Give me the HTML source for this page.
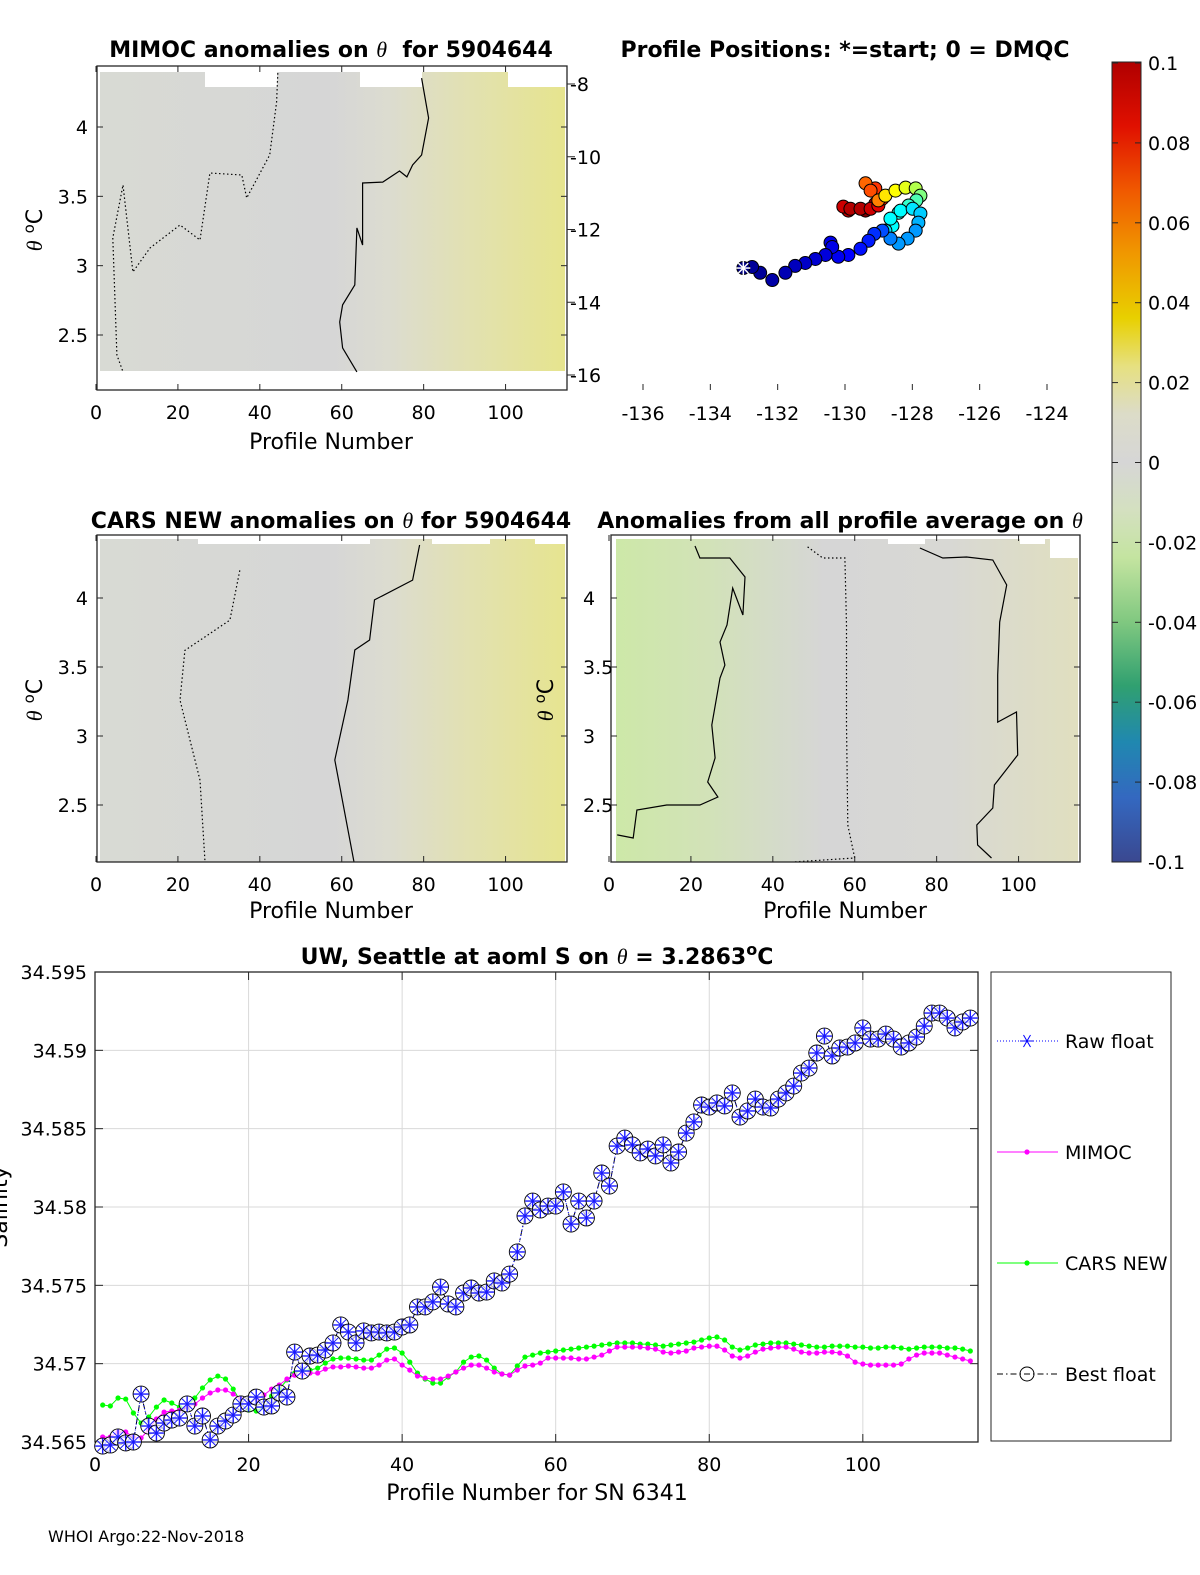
<!DOCTYPE html>
<html><head><meta charset="utf-8">
<style>
html,body{margin:0;padding:0;background:#fff;}
svg{display:block;font-family:"DejaVu Sans","Liberation Sans",sans-serif;}
.t{font-size:22px;font-weight:bold;}
.k{font-size:19px;}
.l{font-size:22px;}
</style></head>
<body>
<svg id="fig" width="1200" height="1575" viewBox="0 0 1200 1575" xmlns="http://www.w3.org/2000/svg">
<defs>
<linearGradient id="gTop" x1="0" x2="1" y1="0" y2="0">
<stop offset="0" stop-color="#d8dad4"/><stop offset="0.5" stop-color="#d6d6d6"/><stop offset="0.62" stop-color="#dcdcd0"/><stop offset="0.8" stop-color="#e2e1b0"/><stop offset="1" stop-color="#e6e48e"/>
</linearGradient>
<linearGradient id="gMid" x1="0" x2="1" y1="0" y2="0">
<stop offset="0" stop-color="#d8dad4"/><stop offset="0.5" stop-color="#d6d6d6"/><stop offset="0.62" stop-color="#dcdcd0"/><stop offset="0.8" stop-color="#e2e1b0"/><stop offset="1" stop-color="#e6e490"/>
</linearGradient>
<linearGradient id="gAvg" x1="0" x2="1" y1="0" y2="0">
<stop offset="0" stop-color="#cde8a8"/><stop offset="0.2" stop-color="#d2e2b8"/><stop offset="0.45" stop-color="#d6d6d6"/><stop offset="0.72" stop-color="#d8d8d4"/><stop offset="1" stop-color="#e0dfbf"/>
</linearGradient>
<linearGradient id="gCbar" x1="0" x2="0" y1="0" y2="1">
<stop offset="0" stop-color="#b00000"/><stop offset="0.08" stop-color="#e01000"/><stop offset="0.16" stop-color="#f05800"/><stop offset="0.24" stop-color="#f09800"/><stop offset="0.32" stop-color="#e8d000"/><stop offset="0.38" stop-color="#e6e080"/><stop offset="0.44" stop-color="#dcdcc8"/><stop offset="0.5" stop-color="#d6d6d6"/><stop offset="0.56" stop-color="#d4e0c0"/><stop offset="0.62" stop-color="#c4e4a0"/><stop offset="0.7" stop-color="#80c880"/><stop offset="0.78" stop-color="#30a070"/><stop offset="0.85" stop-color="#2088b0"/><stop offset="0.92" stop-color="#3468c0"/><stop offset="1" stop-color="#3a4890"/>
</linearGradient>
</defs>
<g id="root"></g>
<text x="48" y="1542" font-size="16">WHOI Argo:22-Nov-2018</text>
</svg>
<script>
const profiles = Array.from({length:114},(_, i)=>i+1);
const bestFloat = [34.56474,34.56481,34.56532,34.56494,34.56500,34.56806,34.56602,34.56557,34.56621,34.56640,34.56653,34.56743,34.56602,34.56666,34.56513,34.56602,34.56634,34.56672,34.56743,34.56743,34.56787,34.56723,34.56730,34.56813,34.56787,34.57074,34.56953,34.57049,34.57055,34.57087,34.57132,34.57247,34.57202,34.57132,34.57209,34.57196,34.57202,34.57196,34.57202,34.57234,34.57247,34.57362,34.57362,34.57394,34.57489,34.57381,34.57362,34.57451,34.57483,34.57451,34.57457,34.57528,34.57515,34.57572,34.57713,34.57943,34.58038,34.57981,34.58006,34.58006,34.58096,34.57891,34.58038,34.57930,34.58038,34.58217,34.58134,34.58389,34.58440,34.58396,34.58345,34.58370,34.58326,34.58396,34.58281,34.58351,34.58472,34.58543,34.58651,34.58638,34.58664,34.58645,34.58728,34.58574,34.58613,34.58689,34.58638,34.58632,34.58689,34.58728,34.58772,34.58855,34.58887,34.58983,34.59091,34.58964,34.59015,34.59021,34.59047,34.59143,34.59072,34.59072,34.59104,34.59072,34.59021,34.59047,34.59085,34.59155,34.59238,34.59238,34.59206,34.59143,34.59181,34.59206];
const rawFloat = bestFloat.slice();
const mimoc = [34.56532,34.56532,34.56564,34.56564,34.56532,34.56526,34.56577,34.56647,34.56691,34.56698,34.56704,34.56723,34.56742,34.56781,34.56813,34.56832,34.56832,34.56806,34.56774,34.56749,34.56768,34.56800,34.56838,34.56864,34.56902,34.56927,34.56934,34.56940,34.56940,34.56966,34.56979,34.56979,34.56985,34.56979,34.56972,34.56972,34.56991,34.57023,34.57030,34.56991,34.56959,34.56921,34.56908,34.56902,34.56902,34.56921,34.56947,34.56972,34.56991,34.56991,34.56972,34.56947,34.56934,34.56927,34.56959,34.56985,34.56991,34.57004,34.57036,34.57036,34.57036,34.57036,34.57030,34.57030,34.57042,34.57055,34.57081,34.57106,34.57106,34.57106,34.57106,34.57100,34.57093,34.57074,34.57068,34.57074,34.57081,34.57100,34.57106,34.57112,34.57112,34.57087,34.57049,34.57036,34.57049,34.57074,34.57093,34.57100,34.57106,34.57106,34.57093,34.57074,34.57068,34.57068,34.57074,34.57074,34.57068,34.57049,34.57010,34.56998,34.56991,34.56991,34.56991,34.56991,34.56998,34.57030,34.57055,34.57068,34.57068,34.57068,34.57055,34.57042,34.57030,34.57017];
const cars = [34.56736,34.56730,34.56781,34.56774,34.56685,34.56621,34.56660,34.56723,34.56768,34.56749,34.56723,34.56723,34.56781,34.56845,34.56896,34.56921,34.56902,34.56838,34.56755,34.56704,34.56698,34.56723,34.56793,34.56838,34.56896,34.56940,34.56959,34.56959,34.56972,34.57004,34.57030,34.57036,34.57036,34.57030,34.57023,34.57023,34.57055,34.57093,34.57100,34.57068,34.57010,34.56940,34.56902,34.56876,34.56876,34.56915,34.56947,34.57010,34.57042,34.57049,34.57023,34.56972,34.56934,34.56927,34.56985,34.57042,34.57055,34.57068,34.57074,34.57081,34.57087,34.57093,34.57100,34.57106,34.57112,34.57119,34.57125,34.57132,34.57132,34.57132,34.57125,34.57125,34.57119,34.57112,34.57119,34.57125,34.57132,34.57138,34.57151,34.57164,34.57170,34.57151,34.57106,34.57087,34.57100,34.57119,34.57125,34.57132,34.57132,34.57132,34.57125,34.57119,34.57112,34.57106,34.57106,34.57112,34.57112,34.57112,34.57106,34.57106,34.57100,34.57100,34.57106,34.57106,34.57100,34.57093,34.57100,34.57106,34.57106,34.57106,34.57100,34.57100,34.57093,34.57081];
const salTicks = [34.565,34.57,34.575,34.58,34.585,34.59,34.595];
const salTickLabels = ["34.565","34.57","34.575","34.58","34.585","34.59","34.595"];
const profTicks = [0,20,40,60,80,100];

const lons = [-133.02,-132.76,-132.52,-132.16,-131.77,-131.48,-131.18,-130.88,-130.58,-130.38,-130.43,-130.20,-129.90,-129.54,-129.30,-129.13,-128.89,-128.65,-128.41,-128.14,-127.90,-127.82,-127.76,-127.99,-128.35,-128.65,-128.80,-128.59,-128.41,-128.11,-127.88,-127.76,-127.90,-128.20,-128.50,-128.80,-129.01,-129.24,-129.39,-129.10,-128.89,-129.01,-129.24,-129.54,-129.84,-130.05,-129.90,-129.39,-129.10,-128.95];
const lats = [-13.06,-13.03,-13.19,-13.39,-13.19,-13.00,-12.92,-12.81,-12.70,-12.48,-12.36,-12.75,-12.70,-12.53,-12.31,-12.12,-12.03,-12.25,-12.39,-12.25,-12.03,-11.81,-11.56,-11.43,-11.48,-11.70,-12.03,-11.90,-11.54,-11.34,-11.20,-11.07,-10.87,-10.85,-10.93,-11.07,-11.20,-10.93,-10.73,-10.87,-11.15,-11.34,-11.43,-11.43,-11.43,-11.37,-11.48,-11.48,-11.29,-11.20];
const anomVals = [-0.1,-0.095,-0.095,-0.092,-0.09,-0.088,-0.086,-0.084,-0.082,-0.08,-0.08,-0.078,-0.075,-0.072,-0.07,-0.066,-0.06,-0.05,-0.045,-0.045,-0.045,-0.04,-0.035,-0.03,-0.025,-0.025,-0.03,-0.025,-0.02,-0.015,-0.01,0.0,0.01,0.02,0.025,0.03,0.05,0.06,0.055,0.065,0.07,0.08,0.085,0.09,0.09,0.085,0.09,0.1,0.095,0.088];
const lonTicks = [-136,-134,-132,-130,-128,-126,-124];
const latTicks = [-8,-10,-12,-14,-16];
const cbarTicks = [0.1,0.08,0.06,0.04,0.02,0,-0.02,-0.04,-0.06,-0.08,-0.1];
const cbarLabels = ["0.1","0.08","0.06","0.04","0.02","0","-0.02","-0.04","-0.06","-0.08","-0.1"];
const thetaTicks = [4,3.5,3,2.5];

const c1SolidP = [79.5,81.2,79.5,77.3,75.9,74.1,70.0,65.1,65.1,63.7,63.2,60.2,59.5,60.2,63.7];
const c1SolidT = [4.353,4.065,3.798,3.726,3.640,3.683,3.603,3.596,3.149,3.272,2.861,2.717,2.594,2.407,2.234];
const c1DotP = [44.4,44.1,42.4,36.8,35.6,27.8,25.4,20.5,13.2,9.0,6.6,4.1,5.1,6.6];
const c1DotT = [4.389,4.180,3.798,3.488,3.654,3.668,3.185,3.293,3.128,2.955,3.582,3.200,2.356,2.234];
const c2SolidP = [79.0,77.3,68.0,66.8,63.2,61.5,58.3,63.0];
const c2SolidT = [4.384,4.130,3.986,3.696,3.623,3.261,2.826,2.087];
const c2DotP = [35.1,32.7,21.7,20.5,25.4,26.6];
const c2DotT = [4.2,3.84,3.62,3.26,2.68,2.10];
const c3LeftP = [21.0,22.2,29.5,33.2,32.7,30.2,28.8,27.1,28.3,27.1,25.1,25.9,24.1,26.6,22.2,14.1,6.8,5.9,2.0];
const c3LeftT = [4.377,4.290,4.290,4.152,3.877,4.072,3.804,3.681,3.514,3.420,3.080,2.841,2.667,2.558,2.500,2.500,2.464,2.261,2.283];
const c3RightP = [75.9,81.5,87.3,93.7,97.1,95.4,94.9,94.9,99.5,99.8,94.1,93.7,89.8,90.0,93.4];
const c3RightT = [4.362,4.290,4.297,4.275,4.094,3.826,3.442,3.101,3.174,2.862,2.645,2.478,2.355,2.210,2.116];
const c3DotP = [48.5,52.2,57.6,58.0,58.0,58.3,60.0,44.9];
const c3DotT = [4.370,4.290,4.290,3.804,3.080,2.355,2.116,2.087];

const NS="http://www.w3.org/2000/svg";
const root=document.getElementById('root');
function el(tag,attrs,parent,text){const e=document.createElementNS(NS,tag);for(const k in attrs)e.setAttribute(k,attrs[k]);if(text!==undefined)e.textContent=text;(parent||root).appendChild(e);return e;}
function lin(d0,d1,p0,p1){return v=>p0+(v-d0)*(p1-p0)/(d1-d0);}

function panel(name,box,grad,xScale,yScale,notches,contours,yLabelX,ylabelSide){
  const g=el('g',{});
  
  
  const hm=el('rect',{x:box.dx0,y:box.dy0,width:box.dx1-box.dx0,height:box.dy1-box.dy0,fill:'url(#'+grad+')'},g);
  
  
  notches.forEach(n=>{const r=el('rect',{x:n[0],y:box.y0+1,width:n[1]-n[0],height:n[2]-box.y0-1,fill:'#fff'},g);});
  contours.forEach(c=>{
    const pts=c.p.map((p,i)=>xScale(p).toFixed(1)+','+yScale(c.t[i]).toFixed(1)).join(' ');
    const pl=el('polyline',{points:pts,fill:'none',stroke:'#000','stroke-width':1.2,'stroke-dasharray':c.dot?'1.5 2.5':'none'},g);
    
    
  });
  el('rect',{x:box.x0,y:box.y0,width:box.x1-box.x0,height:box.y1-box.y0,fill:'none',stroke:'#262626','stroke-width':1.3},g);
  profTicks.forEach(t=>{const x=xScale(t);el('line',{x1:x,x2:x,y1:box.y1,y2:box.y1-6,stroke:'#262626'},g);el('line',{x1:x,x2:x,y1:box.y0,y2:box.y0+6,stroke:'#262626'},g);
    const tx=el('text',{x:x,y:box.y1+29,'text-anchor':'middle',class:'k'},g,String(t));});
  thetaTicks.forEach(t=>{const y=yScale(t);el('line',{x1:box.x0,x2:box.x0+6,y1:y,y2:y,stroke:'#262626'},g);el('line',{x1:box.x1,x2:box.x1-6,y1:y,y2:y,stroke:'#262626'},g);
    if(yLabelX){const tx=el('text',{x:yLabelX,y:y+7,'text-anchor':ylabelSide,class:'k'},g,String(t));}});
  return g;
}
{const box={x0:97,x1:567,y0:66,y1:390,dx0:100,dx1:565,dy0:72,dy1:371};
 const xs=lin(0,115,96,567), ys=lin(4,2.5,127,335);
 panel('mimoc-anomaly-panel',box,'gTop',xs,ys,[[97,100,390],[205,277,87],[360,422,87],[508,567,87]],
 [{p:c1SolidP,t:c1SolidT},{p:c1DotP,t:c1DotT,dot:true}],88,'end');}
{const box={x0:97,x1:567,y0:535,y1:862,dx0:100,dx1:565,dy0:539,dy1:862};
 const xs=lin(0,115,96,567), ys=lin(4,2.5,598,805);
 panel('cars-anomaly-panel',box,'gMid',xs,ys,[[198,370,544],[432,490,544],[535,567,544]],
 [{p:c2SolidP,t:c2SolidT},{p:c2DotP,t:c2DotT,dot:true}],88,'end');}
{const box={x0:611,x1:1080,y0:535,y1:862,dx0:616,dx1:1078,dy0:539,dy1:862};
 const xs=lin(0,115,609,1080), ys=lin(4,2.5,598,805);
 panel('profile-average-anomaly-panel',box,'gAvg',xs,ys,[[888,925,544],[1020,1045,544],[1050,1078,558]],
 [{p:c3LeftP,t:c3LeftT},{p:c3RightP,t:c3RightT},{p:c3DotP,t:c3DotT,dot:true}],583,'start');}

{const g=el('g',{});
 
 
 const xs=lin(-136,-124,643,1047), ys=lin(-8,-16,84,375);
 el('rect',{x:610,y:66,width:470,height:324,fill:'#fff'},g);
 lonTicks.forEach(t=>{const x=xs(t);el('line',{x1:x,x2:x,y1:390,y2:384,stroke:'#262626'},g);
   const tx=el('text',{x:x,y:420,'text-anchor':'middle',class:'k'},g,String(t));});
 latTicks.forEach(t=>{const y=ys(t);el('line',{x1:567,x2:575,y1:y,y2:y,stroke:'#262626'},g);
   const tx=el('text',{x:570,y:y+7,'text-anchor':'start',class:'k'},g,String(t));});
 function jet(v){const t=(v+0.1)/0.2;const r=Math.min(1,Math.max(0,1.5-Math.abs(4*t-3))),gg=Math.min(1,Math.max(0,1.5-Math.abs(4*t-2))),b=Math.min(1,Math.max(0,1.5-Math.abs(4*t-1)));return 'rgb('+Math.round(r*255)+','+Math.round(gg*255)+','+Math.round(b*255)+')';}
 for(let i=lons.length-1;i>=1;i--){
   const c=el('circle',{cx:xs(lons[i]),cy:ys(lats[i]),r:6.5,fill:jet(anomVals[i]),stroke:'#000','stroke-width':1},g);
   
   
 }
 const sx=xs(lons[0]),sy=ys(lats[0]);
 const st=el('g',{},g);
 
 
 el('circle',{cx:sx,cy:sy,r:6.5,fill:jet(anomVals[0]),stroke:'#000'},st);
 [0,45,90,135].forEach(a=>{const r=a*Math.PI/180;el('line',{x1:sx-7*Math.cos(r),y1:sy-7*Math.sin(r),x2:sx+7*Math.cos(r),y2:sy+7*Math.sin(r),stroke:'#fff','stroke-width':1.5},st);});
}
{const g=el('g',{});
 
 
 el('rect',{x:1112,y:62,width:29,height:800,fill:'url(#gCbar)',stroke:'#262626'},g);
 const ys=lin(0.1,-0.1,63,862);
 cbarTicks.forEach((t,i)=>{const y=ys(t);el('line',{x1:1135,x2:1141,y1:y,y2:y,stroke:'#262626'},g);el('line',{x1:1112,x2:1118,y1:y,y2:y,stroke:'#262626'},g);
   const tx=el('text',{x:1148,y:y+7,class:'k'},g,cbarLabels[i]);});
}

function txt(name,x,y,s,cls,extra){const t=el('text',Object.assign({x:x,y:y,'text-anchor':'middle',class:cls},extra||{}));t.innerHTML=s;return t;}
txt('title-mimoc',331,57,'MIMOC anomalies on <tspan font-family="Liberation Serif" font-style="italic" font-weight="normal">θ</tspan>&#160; for 5904644','t');
txt('title-positions',845,57,'Profile Positions: *=start; 0 = DMQC','t');
txt('title-cars',331,528,'CARS NEW anomalies on <tspan font-family="Liberation Serif" font-style="italic" font-weight="normal">θ</tspan> for 5904644','t');
txt('title-average',840,528,'Anomalies from all profile average on <tspan font-family="Liberation Serif" font-style="italic" font-weight="normal">θ</tspan>','t');
txt('x-axis-title-top',331,449,'Profile Number','l');
txt('x-axis-title-mid-left',331,918,'Profile Number','l');
txt('x-axis-title-mid-right',845,918,'Profile Number','l');
txt('y-axis-title-top',0,0,'<tspan font-family="Liberation Serif" font-style="italic">θ</tspan> <tspan dy="-8" font-size="15">o</tspan><tspan dy="8">C</tspan>','l',{transform:'translate(42,230) rotate(-90)'});
txt('y-axis-title-mid-left',0,0,'<tspan font-family="Liberation Serif" font-style="italic">θ</tspan> <tspan dy="-8" font-size="15">o</tspan><tspan dy="8">C</tspan>','l',{transform:'translate(42,700) rotate(-90)'});
txt('y-axis-title-mid-right',0,0,'<tspan font-family="Liberation Serif" font-style="italic">θ</tspan> <tspan dy="-8" font-size="15">o</tspan><tspan dy="8">C</tspan>','l',{transform:'translate(553,700) rotate(-90)'});

{const g=el('g',{});
 
 
 const X0=95,X1=978,Y0=972,Y1=1442;
 const xs=lin(0,115,X0,X1), ys=lin(34.565,34.595,Y1,Y0);
 profTicks.forEach(t=>{const x=xs(t);el('line',{x1:x,x2:x,y1:Y0,y2:Y1,stroke:'#d9d9d9'},g);});
 salTicks.forEach(t=>{const y=ys(t);el('line',{x1:X0,x2:X1,y1:y,y2:y,stroke:'#d9d9d9'},g);});
 el('rect',{x:X0,y:Y0,width:X1-X0,height:Y1-Y0,fill:'none',stroke:'#262626','stroke-width':1.3},g);
 profTicks.forEach(t=>{const x=xs(t);el('line',{x1:x,x2:x,y1:Y1,y2:Y1-8,stroke:'#262626'},g);el('line',{x1:x,x2:x,y1:Y0,y2:Y0+8,stroke:'#262626'},g);
   const tx=el('text',{x:x,y:Y1+29,'text-anchor':'middle',class:'k'},g,String(t));});
 salTicks.forEach((t,i)=>{const y=ys(t);el('line',{x1:X0,x2:X0+8,y1:y,y2:y,stroke:'#262626'},g);el('line',{x1:X1,x2:X1-8,y1:y,y2:y,stroke:'#262626'},g);
   const tx=el('text',{x:X0-8,y:y+7,'text-anchor':'end',class:'k'},g,salTickLabels[i]);});
 function line(arr,color,dash,w,name){const pts=arr.map((v,i)=>xs(profiles[i]).toFixed(1)+','+ys(v).toFixed(1)).join(' ');const p=el('polyline',{points:pts,fill:'none',stroke:color,'stroke-width':w,'stroke-dasharray':dash},g);}
 line(cars,'#00ff00','none',1,'cars-new-line');
 cars.forEach((v,i)=>{const c=el('circle',{cx:xs(profiles[i]),cy:ys(v),r:2.6,fill:'#00ff00'},g);});
 line(mimoc,'#ff00ff','none',1,'mimoc-line');
 mimoc.forEach((v,i)=>{const c=el('circle',{cx:xs(profiles[i]),cy:ys(v),r:2.6,fill:'#ff00ff'},g);});
 line(bestFloat,'#000','6 3 1.5 3',1,'best-float-line');
 line(rawFloat,'#0000ff','1 2',1,'raw-float-line');
 bestFloat.forEach((v,i)=>{const cx=xs(profiles[i]),cy=ys(v);
   const m=el('g',{},g);
   
   
   el('circle',{cx:cx,cy:cy,r:8,fill:'#fff','fill-opacity':0.7,stroke:'#000','stroke-width':0.9},m);
   const ry=ys(rawFloat[i]);
   [0,45,90,135].forEach(a=>{const r=a*Math.PI/180;el('line',{x1:cx-7.5*Math.cos(r),y1:ry-7.5*Math.sin(r),x2:cx+7.5*Math.cos(r),y2:ry+7.5*Math.sin(r),stroke:'#1a1aff','stroke-width':a%90===0?1.4:1},m);});
 });
 txt('salinity-chart-title',537,964,'UW, Seattle at aoml S on <tspan font-family="Liberation Serif" font-style="italic" font-weight="normal">θ</tspan> = 3.2863<tspan dy="-9" font-size="16">o</tspan><tspan dy="9">C</tspan>','t');
 txt('x-axis-title-bottom',537,1500,'Profile Number for SN 6341','l');
 txt('y-axis-title-bottom',0,0,'Salinity','l',{transform:'translate(7,1207) rotate(-90)'});
 const lg=el('g',{},g);
 
 
 el('rect',{x:991,y:972,width:180,height:469,fill:'#fff',stroke:'#262626'},lg);
 const entries=[['Raw float',1041,'#0000ff','1 2'],['MIMOC',1152,'#ff00ff','none'],['CARS NEW',1263,'#00ff00','none'],['Best float',1374,'#000','6 3 1.5 3']];
 entries.forEach(e=>{const eg=el('g',{},lg);
   
   
   el('line',{x1:997,x2:1058,y1:e[1],y2:e[1],stroke:e[2],'stroke-dasharray':e[3]},eg);
   const mx=1027;
   if(e[0]==='Raw float'){[0,60,120].forEach(a=>{const r=a*Math.PI/180;el('line',{x1:mx-7*Math.cos(r),y1:e[1]-7*Math.sin(r),x2:mx+7*Math.cos(r),y2:e[1]+7*Math.sin(r),stroke:'#0000ff'},eg);});}
   else if(e[0]==='Best float'){el('circle',{cx:mx,cy:e[1],r:7,fill:'none',stroke:'#000'},eg);}
   else{el('circle',{cx:mx,cy:e[1],r:2.6,fill:e[2]},eg);}
   el('text',{x:1065,y:e[1]+7,class:'k'},eg,e[0]);
 });
}
</script>
</body></html>
